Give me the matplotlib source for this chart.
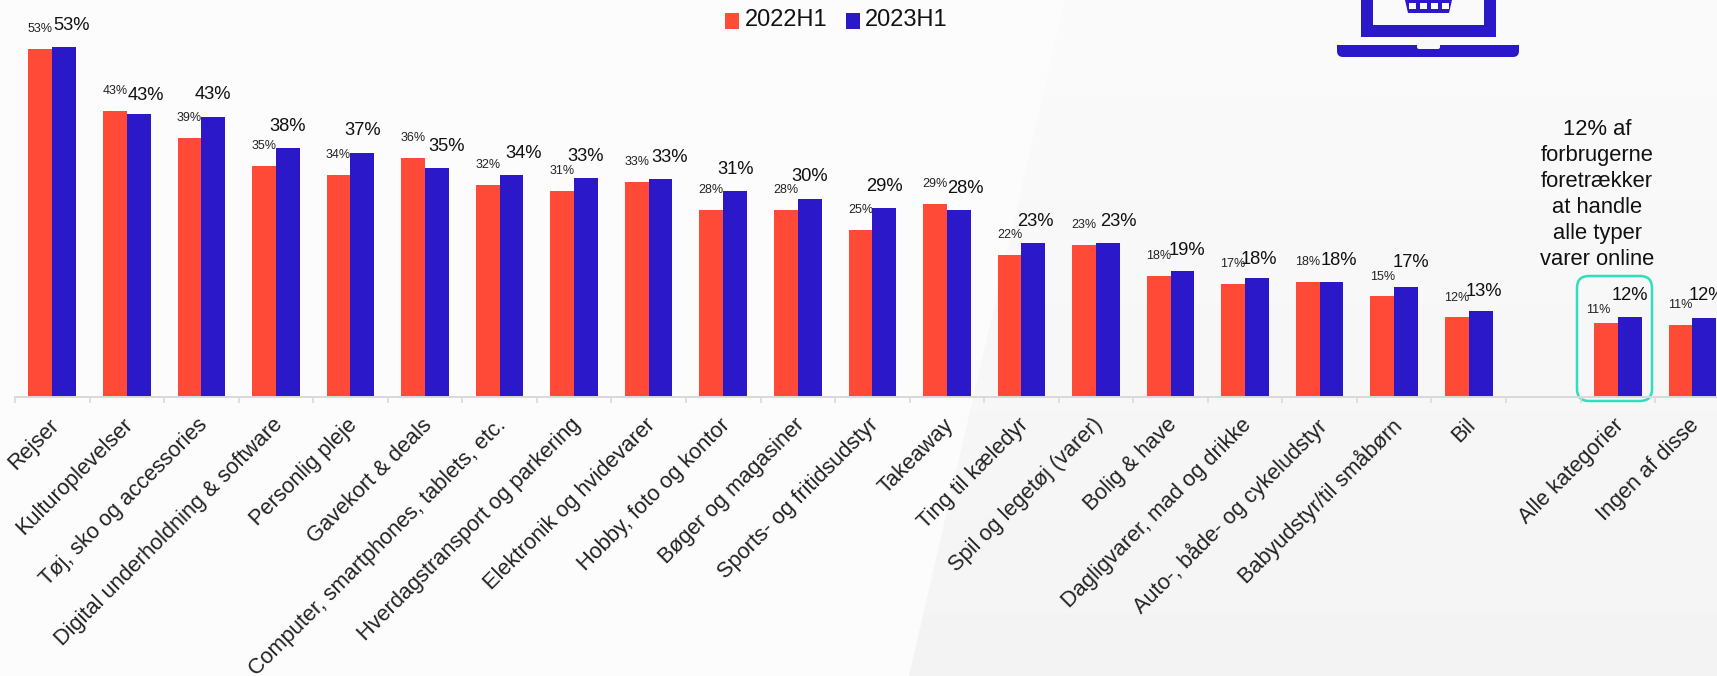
import numpy as np
import matplotlib
matplotlib.use("Agg")
import matplotlib.pyplot as plt
from matplotlib.patches import FancyBboxPatch, Polygon, Rectangle
from matplotlib.transforms import ScaledTranslation

plt.rcParams['font.family'] = ['Liberation Sans', 'DejaVu Sans']

categories = ["Rejser", "Kulturoplevelser", "Tøj, sko og accessories",
              "Digital underholdning & software", "Personlig pleje", "Gavekort & deals",
              "Computer, smartphones, tablets, etc.", "Hverdagstransport og parkering",
              "Elektronik og hvidevarer", "Hobby, foto og kontor", "Bøger og magasiner",
              "Sports- og fritidsudstyr", "Takeaway", "Ting til kæledyr",
              "Spil og legetøj (varer)", "Bolig & have", "Dagligvarer, mad og drikke",
              "Auto-, både- og cykeludstyr", "Babyudstyr/til småbørn", "Bil", "",
              "Alle kategorier", "Ingen af disse"]
values_2022 = [52.65, 43.2, 39.1, 34.9, 33.5, 36.2, 32.1, 31.1, 32.5, 28.2, 28.2, 25.2,
               29.1, 21.5, 23.0, 18.2, 17.0, 17.4, 15.3, 12.1, np.nan, 11.1, 10.8]
values_2023 = [53.0, 42.8, 42.4, 37.7, 36.9, 34.6, 33.6, 33.1, 33.0, 31.1, 30.0, 28.5,
               28.3, 23.3, 23.3, 19.0, 18.0, 17.4, 16.6, 13.0, np.nan, 12.0, 11.9]
labels_2022 = ["53%", "43%", "39%", "35%", "34%", "36%", "32%", "31%", "33%", "28%", "28%", "25%",
               "29%", "22%", "23%", "18%", "17%", "18%", "15%", "12%", "", "11%", "11%"]
labels_2023 = ["53%", "43%", "43%", "38%", "37%", "35%", "34%", "33%", "33%", "31%", "30%", "29%",
               "28%", "23%", "23%", "19%", "18%", "18%", "17%", "13%", "", "12%", "12%"]
# hand placed labels in the original, shift in px from the bar centre / bar top
shift_x = [7, 7, 0, 0, 0, 10, 12, 0, 9, 0, 0, 0, 7, 2, 10, 5, 2, 7, 5, 3, 0, 0, 3]
shift_y = [21, 19, 22, 21, 22, 22, 21, 22, 21, 22, 22, 22, 21, 21, 21, 21, 18, 21, 24, 19, 0, 22, 22]
red_shift_x = [0] * 21 + [-8, 0]
red_shift_y = [20] * 18 + [19, 19, 0, 13, 20]
note = "12% af\nforbrugerne\nforetrækker\nat handle\nalle typer\nvarer online"

RED = "#ff4a38"
BLUE = "#2b18c8"
W, H = 1717, 676
GROUP = 74.55

fig = plt.figure(figsize=(W / 100, H / 100), dpi=100, facecolor="#fcfcfc")

# background and laptop icon, in pixel coords
bg = fig.add_axes([0, 0, 1, 1])
bg.set_xlim(0, W)
bg.set_ylim(H, 0)
bg.axis("off")
shade = Polygon([(1065, 0), (W, 0), (W, H), (909, H)], fc="none", ec="none", transform=bg.transData)
bg.add_patch(shade)
grad = bg.imshow(np.linspace(0.98, 0.955, 64).reshape(-1, 1), cmap="gray", vmin=0, vmax=1,
                 extent=(900, W, H, 0), aspect="auto")
grad.set_clip_path(shade)
bg.set_xlim(0, W)
bg.set_ylim(H, 0)

bg.add_patch(Rectangle((1361, -2), 135, 39, fc=BLUE, ec="none"))
bg.add_patch(Rectangle((1373, -2), 111, 27, fc="#fafafa", ec="none"))
base = FancyBboxPatch((1343, 41), 170, 10, boxstyle="round,pad=6,rounding_size=6", fc=BLUE, ec="none")
bg.add_patch(base)
base.set_clip_path(Rectangle((1330, 45), 200, 14, transform=bg.transData))
bg.add_patch(FancyBboxPatch((1419, 43), 19, 4, boxstyle="round,pad=2,rounding_size=2", fc="#f9f9f9", ec="none"))
bg.add_patch(Rectangle((1415, 40), 27, 5, fc="#f9f9f9", ec="none"))
bg.add_patch(Polygon([(1405, 0), (1452, 0), (1449, 13), (1408, 13)], fc=BLUE, ec="none"))
for cx in [1412, 1423, 1434, 1445]:
    bg.add_patch(Rectangle((cx - 3.5, 3), 7, 6, fc="#fafafa", ec="none"))

# legend
bg.add_patch(Rectangle((725, 12.5), 14, 16, fc=RED, ec="none"))
bg.add_patch(Rectangle((846, 12.5), 14, 16, fc=BLUE, ec="none"))
bg.text(745, 20, "2022H1", fontsize=17, va="center", ha="left", color="#111111")
bg.text(865, 20, "2023H1", fontsize=17, va="center", ha="left", color="#111111")

# chart axes: x=-0.5 sits at px 15, baseline at px 396.5
ax_left = 15
ax_base = 396.5
ax = fig.add_axes([ax_left / W, 1 - ax_base / H, (W - ax_left) / W, ax_base / H])
ax.patch.set_alpha(0)

x = np.arange(len(categories))
bw = 23.8 / GROUP
ax.bar(x - bw / 2, values_2022, bw, color=RED)
ax.bar(x + bw / 2, values_2023, bw, color=BLUE)

px2pt = 0.72
for i in x:
    if not labels_2022[i]:
        continue
    ax.annotate(labels_2022[i], (i - bw / 2, values_2022[i]),
                xytext=(red_shift_x[i] * px2pt, red_shift_y[i] * px2pt),
                textcoords="offset points", ha="center", va="center", fontsize=9, color="#222222")
    ax.annotate(labels_2023[i], (i + bw / 2, values_2023[i]),
                xytext=(shift_x[i] * px2pt, shift_y[i] * px2pt),
                textcoords="offset points", ha="center", va="center", fontsize=13.2, color="#111111")

for s in ["top", "left", "right"]:
    ax.spines[s].set_visible(False)
ax.spines["bottom"].set_color("#d9d9d9")
ax.spines["bottom"].set_linewidth(1.4)
ax.set_yticks([])
ax.set_xticks(np.arange(0, 24) - 0.5)
ax.set_xticklabels([])
ax.tick_params(axis="x", length=4, width=1.2, color="#d9d9d9")
ax.set_xticks(x, minor=True)
ax.set_xticklabels(categories, minor=True, rotation=45, ha="right", rotation_mode="anchor",
                   fontsize=15.7, color="#222222")
ax.tick_params(axis="x", which="minor", length=0, pad=13)
nudge = ScaledTranslation(-4 / 100, 0, fig.dpi_scale_trans)
for lab in ax.get_xticklabels(minor=True):
    lab.set_transform(lab.get_transform() + nudge)
# set_xticks widens the limits, so set them last
ax.set_xlim(-0.5, -0.5 + (W - ax_left) / GROUP)
ax.set_ylim(0, ax_base / 6.6)

# highlight box around Alle kategorier
bg.add_patch(FancyBboxPatch((1587, 286), 55, 105, boxstyle="round,pad=10,rounding_size=12",
                            fc="none", ec="#2fdfbb", lw=1.8, zorder=5))
bg.text(1597, 194.5, note, ha="center", va="center", fontsize=15.8, linespacing=1.31, color="#111111")

fig.savefig("out.png", dpi=100, facecolor=fig.get_facecolor())
